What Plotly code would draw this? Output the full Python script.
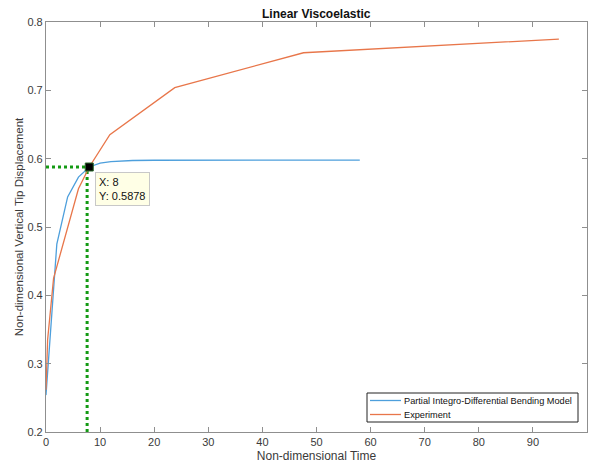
import plotly.graph_objects as go

# Model prediction: partial integro-differential bending model
model_t = [0, 2, 4, 6, 8, 10, 12, 14, 16, 20, 25, 30, 40, 50, 58]
model_d = [0.254, 0.475, 0.544, 0.573, 0.5878, 0.5935, 0.5958, 0.5968, 0.5973,
           0.5977, 0.5978, 0.5978, 0.5978, 0.5978, 0.5978]

# Measured tip displacement
exp_t = [0, 0.3, 1.4, 6, 8, 11.8, 23.8, 47.6, 94.8]
exp_d = [0.262, 0.335, 0.425, 0.556, 0.5878, 0.635, 0.704, 0.755, 0.775]

# Data cursor
tip_x = 8
tip_y = 0.5878
guide_x = 7.6

x_ticks = [0, 10, 20, 30, 40, 50, 60, 70, 80, 90, 100]
y_ticks = [0.2, 0.3, 0.4, 0.5, 0.6, 0.7, 0.8]

series_names = ["Partial Integro-Differential Bending Model", "Experiment"]

BLUE = "#4d9fdc"
ORANGE = "#e8764a"
GREEN = "#139a13"
AX = "#8f8f8f"
TXT = "#3a3a3a"
FONT = "Liberation Sans, Arial, sans-serif"

W, H = 589, 466
ML, MR, MT, MB = 46, 2, 22, 34
PW, PH = W - ML - MR, H - MT - MB

fig = go.Figure()

# Dotted guide lines to the cursor point
fig.add_trace(go.Scatter(x=[0, tip_x], y=[tip_y, tip_y], mode="lines",
                         line=dict(color=GREEN, width=3, dash="dot"),
                         showlegend=False, hoverinfo="skip"))
fig.add_trace(go.Scatter(x=[guide_x, guide_x], y=[y_ticks[0], tip_y], mode="lines",
                         line=dict(color=GREEN, width=3, dash="dot"),
                         showlegend=False, hoverinfo="skip"))

fig.add_trace(go.Scatter(x=model_t, y=model_d, mode="lines",
                         name=series_names[0], showlegend=False,
                         line=dict(color=BLUE, width=1.3)))
fig.add_trace(go.Scatter(x=exp_t, y=exp_d, mode="lines", name=series_names[1],
                         showlegend=False, line=dict(color=ORANGE, width=1.3)))

fig.add_trace(go.Scatter(x=[tip_x], y=[tip_y], mode="markers",
                         marker=dict(symbol="square", size=8, color="black",
                                     line=dict(color="#2a6a2a", width=1)),
                         showlegend=False, hoverinfo="skip"))

fig.add_annotation(x=tip_x + 1.1, y=tip_y - 0.008, xref="x", yref="y",
                   xanchor="left", yanchor="top", showarrow=False, align="left",
                   text=f"X: {tip_x}<br>Y: {tip_y}",
                   font=dict(family=FONT, size=11, color="#111"),
                   bgcolor="#ffffe6", bordercolor="#c8c8c8", borderwidth=1, borderpad=3)


# Compact boxed legend in the lower right corner (pixel layout -> paper coords)
def px(xp):
    return (xp - ML) / PW


def py(yp):
    return (H - MB - yp) / PH


box_l, box_r, box_t, box_b = 367, 578, 393, 422
fig.add_shape(type="rect", xref="paper", yref="paper",
              x0=px(box_l), x1=px(box_r), y0=py(box_b), y1=py(box_t),
              line=dict(color="#222", width=1), fillcolor="white", layer="above")
for i, (name, col) in enumerate(zip(series_names, [BLUE, ORANGE])):
    yc = box_t + 7.5 + i * 14
    fig.add_shape(type="line", xref="paper", yref="paper",
                  x0=px(box_l + 3), x1=px(box_l + 34), y0=py(yc), y1=py(yc),
                  line=dict(color=col, width=1.3), layer="above")
    fig.add_annotation(x=px(box_l + 35), y=py(yc), xref="paper", yref="paper",
                       xanchor="left", yanchor="middle", showarrow=False,
                       text=name, font=dict(family=FONT, size=9.2, color="#111"))

axis_common = dict(showline=True, linecolor=AX, linewidth=1.2, mirror="ticks",
                   ticks="inside", ticklen=5, tickcolor=AX, tickwidth=1,
                   showgrid=False, zeroline=False,
                   tickfont=dict(family=FONT, size=11, color=TXT))

fig.update_layout(
    width=W, height=H,
    margin=dict(l=ML, r=MR, t=MT, b=MB),
    paper_bgcolor="white", plot_bgcolor="white",
    title=dict(text="<b>Linear Viscoelastic</b>", x=0.537, xanchor="center",
               y=0.970, yanchor="middle",
               font=dict(family=FONT, size=12, color="#111")),
    xaxis=dict(range=[0, 100], tickvals=x_ticks, **axis_common,
               title=dict(text="Non-dimensional Time", standoff=4,
                          font=dict(family=FONT, size=12, color=TXT))),
    yaxis=dict(range=[0.2, 0.8], tickvals=y_ticks, tickformat=".1f", **axis_common,
               title=dict(text="Non-dimensional Vertical Tip Displacement", standoff=1,
                          font=dict(family=FONT, size=11.5, color=TXT))),
    showlegend=False,
)

fig.write_html("out.html")
